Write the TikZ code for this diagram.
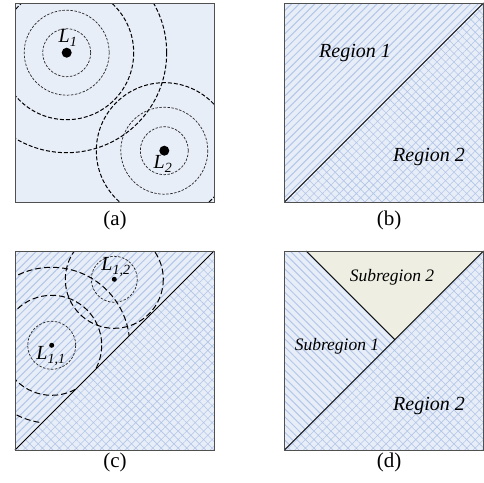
\documentclass[tikz,border=0pt]{standalone}
\usepackage{fontspec}
\setmainfont{Liberation Serif}
\usetikzlibrary{patterns.meta}
\definecolor{panelbg}{HTML}{E8EEF8}
\definecolor{hatchblue}{HTML}{B3C6E8}
\definecolor{subfill}{HTML}{EEEFE2}
\definecolor{framegray}{HTML}{505050}

\begin{document}
\begin{tikzpicture}[x=1pt, y=-1pt,
    panel/.style={draw=framegray, line width=1pt},
    stripes/.style={pattern={Lines[angle=45,distance=5.5pt,line width=1pt]}, pattern color=hatchblue},
    backstripes/.style={pattern={Lines[angle=-45,distance=5.5pt,line width=1pt]}, pattern color=hatchblue},
    mesh/.style={pattern={Hatch[angle=45,distance=6pt,line width=0.6pt]}, pattern color=hatchblue},
    ring/.style={draw=black!85, dash pattern=on 2.5pt off 1.5pt, line width=0.7pt},
    wave/.style={draw=black, dash pattern=on 4pt off 2pt, line width=1pt},
    longwave/.style={draw=black, dash pattern=on 6pt off 3pt, line width=1pt},
    beacon/.style={circle, fill=black, inner sep=0pt, minimum size=10pt},
    smallbeacon/.style={circle, fill=black, inner sep=0pt, minimum size=5pt},
    caption/.style={font=\fontsize{21}{24}\selectfont},
    regionlabel/.style={font=\fontsize{20}{24}\selectfont\itshape},
    sublabel/.style={font=\fontsize{17.5}{20}\selectfont\itshape},
    anchorlabel/.style={font=\fontsize{20}{24}\selectfont\itshape, inner sep=0pt}
]
\useasboundingbox (0,0) rectangle (484,482);

% (a) two anchors
\fill[panelbg] (15,3) rectangle (214,202);
\node[beacon] (l1) at (66.7,52.7) {};
\node[beacon] (l2) at (164.3,150.7) {};
\begin{scope}
  \clip (15,3) rectangle (214,202);
  \draw[ring] (l1.center) circle[radius=24];
  \draw[ring] (l1.center) circle[radius=42.5];
  \draw[wave] (l1.center) circle[radius=67];
  \draw[wave] (l1.center) circle[radius=100];
  \draw[ring] (l2.center) circle[radius=24];
  \draw[ring] (l2.center) circle[radius=43.5];
  \draw[wave] (l2.center) circle[radius=68];
\end{scope}
\draw[panel] (15,3) rectangle (214,202);
\node[anchorlabel] (l1lab) at (68,38) {L\textsubscript{1}};
\node[anchorlabel] (l2lab) at (163,164) {L\textsubscript{2}};
\node[caption] (capa) at (115,220) {(a)};

% (b) two regions
\fill[panelbg] (284.5,3) rectangle (483.5,202);
\fill[stripes] (284.5,3) -- (483.5,3) -- (284.5,202) -- cycle;
\fill[mesh] (483.5,3) -- (483.5,202) -- (284.5,202) -- cycle;
\draw[line width=0.8pt] (284.5,202) -- (483.5,3);
\draw[panel] (284.5,3) rectangle (483.5,202);
\node[regionlabel] (reg1) at (355,53) {Region 1};
\node[regionlabel] (reg2) at (429,157) {Region 2};
\node[caption] (capb) at (389,220) {(b)};

% (c) anchors inside region 1
\fill[panelbg] (15,251) rectangle (214,450);
\fill[stripes] (15,251) -- (214,251) -- (15,450) -- cycle;
\fill[mesh] (214,251) -- (214,450) -- (15,450) -- cycle;
\node[smallbeacon] (l11) at (51.7,345.3) {};
\node[smallbeacon] (l12) at (114.3,279.3) {};
\begin{scope}
  \clip (15,251) -- (214,251) -- (15,450) -- cycle;
  \draw[ring] (l11.center) circle[radius=24];
  \draw[longwave] (l11.center) circle[radius=50];
  \draw[longwave] (l11.center) circle[radius=78];
  \draw[ring] (l12.center) circle[radius=23];
  \draw[longwave] (l12.center) circle[radius=49];
\end{scope}
\draw[line width=0.8pt] (15,450) -- (214,251);
\draw[panel] (15,251) rectangle (214,450);
\node[anchorlabel] (l11lab) at (51,356) {L\textsubscript{1,1}};
\node[anchorlabel] (l12lab) at (116,267) {L\textsubscript{1,2}};
\node[caption] (capc) at (115,462) {(c)};

% (d) subregions
\fill[panelbg] (284.5,251) rectangle (483.5,450);
\fill[backstripes] (284.5,251) -- (306.3,251) -- (394.9,339.6) -- (284.5,450) -- cycle;
\fill[subfill] (306.3,251) -- (483.5,251) -- (394.9,339.6) -- cycle;
\fill[mesh] (483.5,251) -- (483.5,450) -- (284.5,450) -- (394.9,339.6) -- cycle;
\draw[line width=0.8pt] (284.5,450) -- (483.5,251);
\draw[line width=0.8pt] (306.3,251) -- (394.9,339.6);
\draw[panel] (284.5,251) rectangle (483.5,450);
\node[sublabel] (sub2) at (392,277) {Subregion 2};
\node[sublabel] (sub1) at (337,346) {Subregion 1};
\node[regionlabel] (reg2d) at (429,406) {Region 2};
\node[caption] (capd) at (389,462) {(d)};
\end{tikzpicture}
\end{document}
